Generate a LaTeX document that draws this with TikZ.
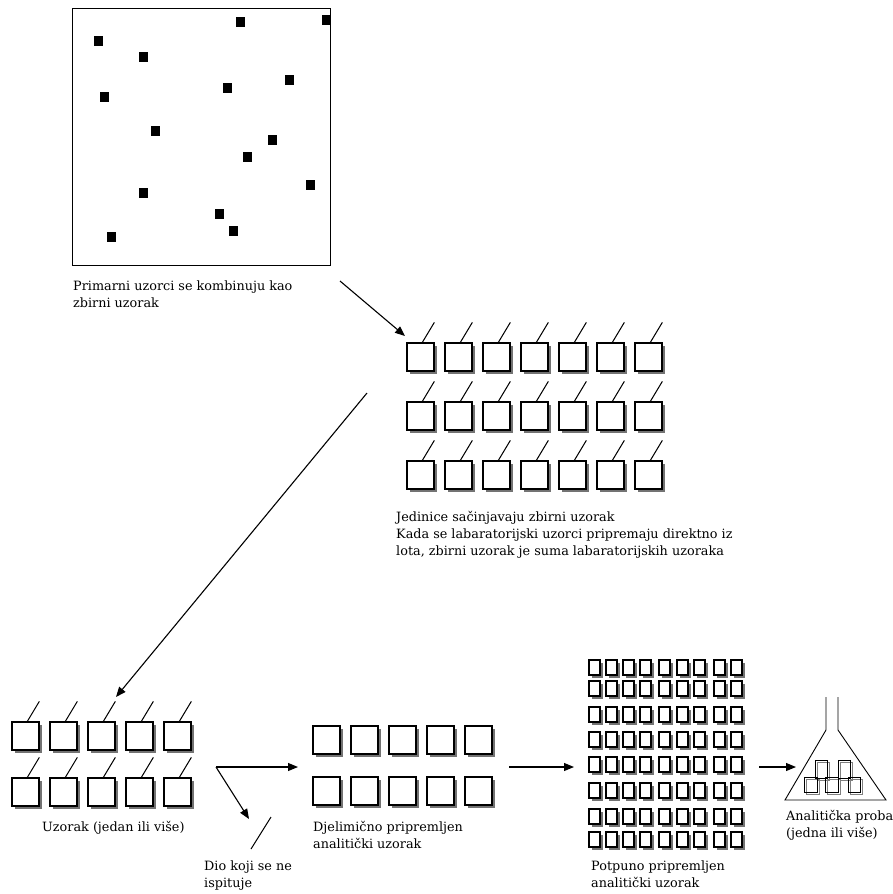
\documentclass[tikz,border=0pt]{standalone}
\usepackage{fontspec}
\setmainfont{DejaVu Serif}
\usetikzlibrary{arrows.meta,shadows}
\begin{document}
\begin{tikzpicture}[x=1pt,y=-1pt,
  lbl/.style={anchor=north west,inner sep=0pt,align=left,font=\fontsize{12.8}{17}\selectfont},
  bigbox/.style={draw=black,fill=white,line width=1.3pt,minimum width=27pt,minimum height=28pt,inner sep=0pt,
     drop shadow={shadow xshift=3pt,shadow yshift=-3pt,opacity=1,fill=black!55}},
  smallbox/.style={bigbox,minimum width=11pt,minimum height=15pt},
  dot/.style={fill=black,minimum width=9pt,minimum height=10pt,inner sep=0pt},
  arr/.style={line width=1.1pt,-{Triangle[length=10pt,width=8pt]}},
  tail/.style={line width=1pt},
  flask/.style={line width=0.9pt}]
\useasboundingbox (0,0) rectangle (893,894);
% field with primary samples
\node[draw,line width=1.3pt,minimum width=258pt,minimum height=257pt,anchor=north west,inner sep=0pt] (field) at (72,8) {};
\foreach \x/\y [count=\k] in {240/22,326/20,98/41,143/57,289/80,227/88,104/97,155/131,272/140,247/157,310/185,143/193,219/214,233/231,111/237}
  \node[dot] (d\k) at (\x,\y) {};
\node[lbl] (t1) at (73,281) {Primarni uzorci se kombinuju kao\\zbirni uzorak};
% grid 1
\foreach \i in {0,...,6} \foreach \j/\t in {0/343,1/402,2/461} {
  \node[bigbox] (ga-\i-\j) at ({407+38*\i+13.5},{\t+14}) {};
  \draw[tail] ([xshift=16pt]ga-\i-\j.north west) -- ++(12,-20);
}
\node[lbl] (t2) at (396,511) {Jedinice sačinjavaju zbirni uzorak\\Kada se labaratorijski uzorci pripremaju direktno iz\\lota, zbirni uzorak je suma labaratorijskih uzoraka};
% grid 2
\foreach \i in {0,...,4} \foreach \j/\t in {0/722,1/778} {
  \node[bigbox] (gb-\i-\j) at ({12+38*\i+13.5},{\t+14}) {};
  \draw[tail] ([xshift=16pt]gb-\i-\j.north west) -- ++(12,-20);
}
\node[lbl] (t3) at (42,821) {Uzorak (jedan ili više)};
% grid 3
\foreach \i in {0,...,4} \foreach \j/\t in {0/726,1/777}
  \node[bigbox] (gc-\i-\j) at ({313+38*\i+13.5},{\t+14}) {};
\node[lbl] (t5) at (313,821) {Djelimično pripremljen\\analitički uzorak};
% grid 4
\foreach \x [count=\i] in {589,606,623,640,659,677,694,714,731}
  \foreach \y [count=\j] in {660,681,707,732,757,783,809,832}
    \node[smallbox] (gd-\i-\j) at ({\x+5.5},{\y+7.5}) {};
\node[lbl] (t6) at (591,861) {Potpuno pripremljen\\analitički uzorak};
% flask
\coordinate (fl1) at (826,697); \coordinate (fl2) at (826,730); \coordinate (fl3) at (785,800);
\coordinate (fl4) at (886,800); \coordinate (fl5) at (838,730); \coordinate (fl6) at (838,697);
\draw[flask] (fl1) -- (fl2) -- (fl3) -- (fl4) -- (fl5) -- (fl6);
\foreach \a/\b/\c/\d in {815/760/827/778,838/760/850/778,804/777/817/792,825/777/838/792,848/777/860/792} {
  \draw[black!50,line width=0.9pt] (\a+2,\b+2) rectangle (\c+2,\d+2);
}
\foreach \a/\b/\c/\d in {815/760/827/778,838/760/850/778,804/777/817/792,825/777/838/792,848/777/860/792} {
  \draw[black,line width=0.9pt] (\a,\b) rectangle (\c,\d);
}
\node[lbl] (t7) at (786,810) {Analitička proba\\(jedna ili više)};
% discarded part
\coordinate (s1) at (271,817); \coordinate (s2) at (251,849);
\draw[tail] (s1) -- (s2);
\node[lbl] (t4) at (204,861) {Dio koji se ne\\ispituje};
% arrows
\coordinate (a1s) at (340,281); \coordinate (a1e) at (405,336);
\draw[arr] (a1s) -- (a1e);
\coordinate (a2s) at (367,393); \coordinate (a2e) at (116,697);
\draw[arr] (a2s) -- (a2e);
\coordinate (sp) at (216,767); \coordinate (spe) at (298,767); \coordinate (spd) at (249,819);
\draw[arr] (sp) -- (spe);
\draw[arr] (sp) -- (spd);
\coordinate (a4s) at (509,767); \coordinate (a4e) at (574,767);
\draw[arr] (a4s) -- (a4e);
\coordinate (a5s) at (759,767); \coordinate (a5e) at (796,767);
\draw[arr] (a5s) -- (a5e);
\end{tikzpicture}
\end{document}
